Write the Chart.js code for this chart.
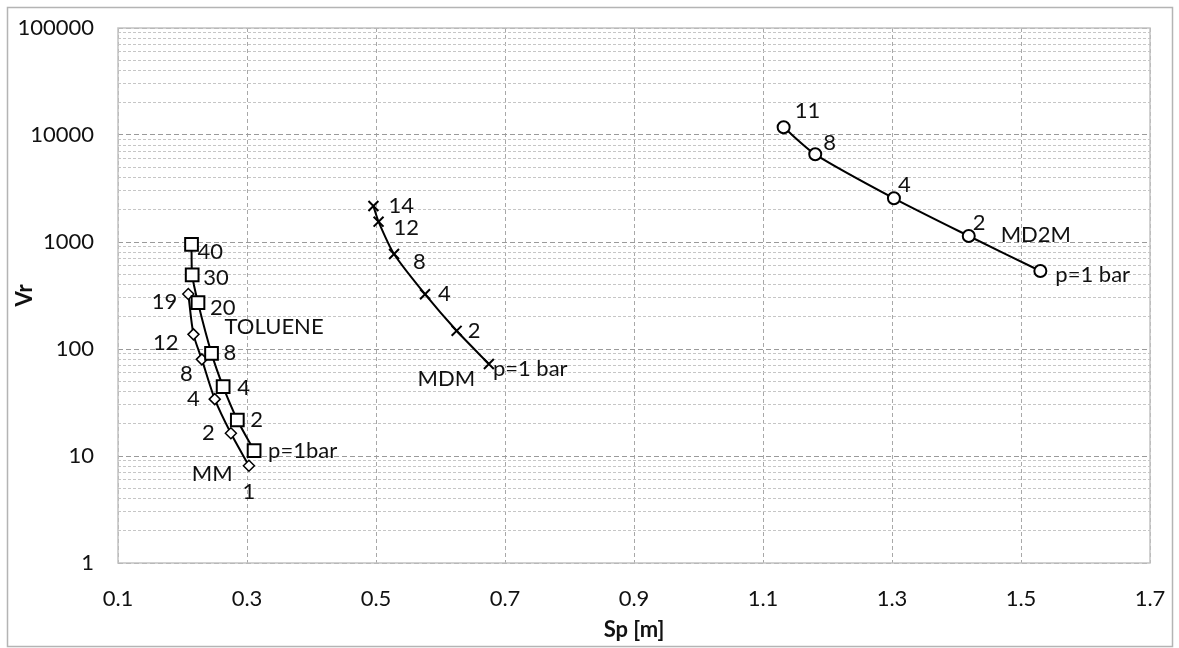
<!DOCTYPE html>
<html><head><meta charset="utf-8">
<script src="https://cdn.jsdelivr.net/npm/chart.js@4/dist/chart.umd.min.js"></script>
<style>html,body{margin:0;padding:0;background:#fff}#wrap{width:1179px;height:648px;position:relative}</style>
</head><body><div id="wrap"><canvas id="c"></canvas></div>
<script>
// ---- data ----
const xTicks = [0.1, 0.3, 0.5, 0.7, 0.9, 1.1, 1.3, 1.5, 1.7];
const yDecades = [1, 10, 100, 1000, 10000, 100000];

const tolueneSp = [0.311, 0.285, 0.263, 0.245, 0.224, 0.215, 0.214];
const tolueneVr = [11.2, 21.7, 44.4, 91, 271, 492, 950];
const tolueneP  = ['p=1bar', '2', '4', '8', '20', '30', '40'];

const mmSp = [0.303, 0.275, 0.250, 0.230, 0.217, 0.209];
const mmVr = [8.1, 16.3, 34, 80, 137, 327];
const mmP  = ['1', '2', '4', '8', '12', '19'];

const mdmSp = [0.675, 0.625, 0.576, 0.528, 0.504, 0.496];
const mdmVr = [72.4, 148, 325, 772, 1549, 2170];
const mdmP  = ['p=1 bar', '2', '4', '8', '12', '14'];

const md2mSp = [1.530, 1.419, 1.303, 1.181, 1.132];
const md2mVr = [536, 1138, 2560, 6600, 11800];
const md2mP  = ['p=1 bar', '2', '4', '8', '11'];

const seriesNames = ['TOLUENE', 'MM', 'MDM', 'MD2M'];
const nameSp = [0.342, 0.246, 0.609, 1.523];
const nameVr = [162, 6.8, 52.5, 1162];

// ---- label placement (style) ----
const labelStyle = [
  [[14,0,'left'],[13,0,'left'],[14,1,'left'],[12,0,'left'],[12,5,'left'],[11,3,'left'],[6,8,'left']],
  [[0,26,'center'],[-16,0,'right'],[-15,0,'right'],[-9,15,'right'],[-15,9,'right'],[-11,8,'right']],
  [[4,5,'left'],[11,0,'left'],[13,0,'left'],[19,8,'left'],[15,6,'left'],[15,0,'left']],
  [[15,4,'left'],[4,-13,'left'],[4,-13,'left'],[8,-11,'left'],[11,-16,'left']]
];
const pointTexts = [tolueneP, mmP, mdmP, md2mP];

const FONT = 'Lato';
const FS = 22;
const TXT = '#111111';

function pts(xs, ys) { return xs.map((x, i) => ({x: x, y: ys[i]})); }

const frame = {
  id: 'frame',
  beforeDraw(chart) {
    const ctx = chart.ctx;
    ctx.save();
    ctx.fillStyle = '#ffffff';
    ctx.fillRect(0, 0, chart.width, chart.height);
    ctx.strokeStyle = '#b4b4b4';
    ctx.lineWidth = 1.5;
    ctx.strokeRect(7.5, 7.5, 1165, 639);
    ctx.restore();
  },
  beforeDatasetsDraw(chart) {
    const a = chart.chartArea, ctx = chart.ctx;
    ctx.save();
    ctx.strokeStyle = '#c2c2c2';
    ctx.lineWidth = 1.5;
    ctx.strokeRect(a.left, a.top, a.right - a.left, a.bottom - a.top);
    ctx.restore();
  },
  afterDatasetsDraw(chart) {
    const ctx = chart.ctx;
    ctx.save();
    ctx.font = FS + 'px ' + FONT;
    ctx.fillStyle = TXT;
    ctx.textBaseline = 'middle';
    chart.data.datasets.forEach((ds, i) => {
      const meta = chart.getDatasetMeta(i);
      meta.data.forEach((el, j) => {
        const o = labelStyle[i][j];
        ctx.textAlign = o[2];
        ctx.fillText(pointTexts[i][j], el.x + o[0], el.y + o[1]);
      });
    });
    const xs = chart.scales.x, ys = chart.scales.y;
    ctx.textAlign = 'center';
    seriesNames.forEach((n, k) => {
      ctx.fillText(n, xs.getPixelForValue(nameSp[k]), ys.getPixelForValue(nameVr[k]));
    });
    ctx.restore();
  }
};

const common = {showLine: true, borderColor: '#000', borderWidth: 2, tension: 0.25,
  pointBackgroundColor: '#fff', pointBorderColor: '#000'};

new Chart(document.getElementById('c'), {
  type: 'scatter',
  data: {
    datasets: [
      Object.assign({label: 'TOLUENE', data: pts(tolueneSp, tolueneVr), pointStyle: 'rect', pointRadius: 9, pointBorderWidth: 2}, common),
      Object.assign({label: 'MM', data: pts(mmSp, mmVr), pointStyle: 'rectRot', pointRadius: 5.5, pointBorderWidth: 1.5}, common),
      Object.assign({label: 'MDM', data: pts(mdmSp, mdmVr), pointStyle: 'crossRot', pointRadius: 7, pointBorderWidth: 2}, common),
      Object.assign({label: 'MD2M', data: pts(md2mSp, md2mVr), pointStyle: 'circle', pointRadius: 6, pointBorderWidth: 2}, common)
    ]
  },
  options: {
    responsive: true, maintainAspectRatio: false, animation: false, devicePixelRatio: 1,
    layout: {padding: {top: 28, right: 29, bottom: 0, left: 0}},
    plugins: {legend: {display: false}, tooltip: {enabled: false}},
    scales: {
      x: {
        type: 'linear', min: 0.1, max: 1.7,
        afterBuildTicks: s => { s.ticks = xTicks.map(v => ({value: v})); },
        afterFit: s => { s.height = 85; s.paddingLeft = 0; s.paddingRight = 0; },
        ticks: {padding: 23, autoSkip: false, maxRotation: 0, color: TXT,
          font: {family: FONT, size: FS}, callback: v => Number(v).toFixed(1)},
        grid: {color: '#a8a8a8', lineWidth: 1, drawTicks: false},
        border: {display: false, dash: [4, 3]},
        title: {display: true, text: 'Sp [m]', color: TXT,
          font: {family: FONT, size: FS, weight: 'bold'}, padding: {top: 0, bottom: 5}}
      },
      y: {
        type: 'logarithmic', min: 1, max: 100000,
        afterBuildTicks: s => {
          const t = [];
          yDecades.forEach((d, k) => {
            t.push({value: d, major: true});
            if (k < yDecades.length - 1) for (let m = 2; m < 10; m++) t.push({value: d * m});
          });
          s.ticks = t;
        },
        afterFit: s => { s.width = 118; s.paddingTop = 0; s.paddingBottom = 0; },
        ticks: {padding: 24, autoSkip: false, color: TXT, font: {family: FONT, size: FS},
          callback: v => yDecades.includes(v) ? String(v) : ''},
        grid: {drawTicks: false, lineWidth: 1,
          color: c => (c.tick && yDecades.includes(c.tick.value)) ? '#9a9a9a' : '#c6c6c6'},
        border: {display: false,
          dash: c => (c.tick && yDecades.includes(c.tick.value)) ? [5, 3] : [3, 2]},
        title: {display: true, text: 'Vr', color: TXT,
          font: {family: FONT, size: FS, weight: 'bold'}, padding: {top: 12, bottom: 0}}
      }
    }
  },
  plugins: [frame]
});
</script>
</body></html>
